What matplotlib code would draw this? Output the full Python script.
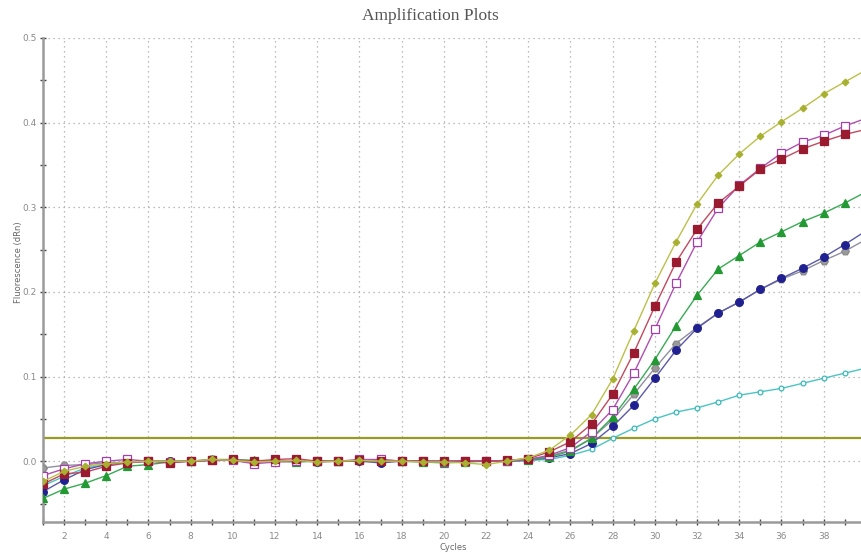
import matplotlib
matplotlib.use("Agg")
import matplotlib.pyplot as plt
from matplotlib.ticker import MultipleLocator, FormatStrFormatter
import numpy as np

# ── Data ──────────────────────────────────────────────────────────────────────
cycles = np.arange(1, 41)

yellow = [-0.024, -0.012, -0.006, -0.003, -0.001, 0.000, 0.000, 0.000, 0.002, 0.001,
          -0.001, 0.000, 0.001, -0.001, 0.000, 0.001, 0.000, 0.000, -0.001, -0.001,
          -0.002, -0.004, 0.000, 0.004, 0.013, 0.031, 0.055, 0.097, 0.154, 0.210,
          0.259, 0.304, 0.338, 0.363, 0.384, 0.401, 0.417, 0.434, 0.448, 0.462]
red = [-0.027, -0.015, -0.013, -0.006, -0.002, 0.000, -0.002, 0.000, 0.001, 0.002,
       0.000, 0.002, 0.003, 0.000, 0.000, 0.001, 0.000, 0.000, 0.000, 0.000,
       0.000, 0.000, 0.001, 0.003, 0.011, 0.023, 0.044, 0.079, 0.128, 0.183,
       0.235, 0.274, 0.305, 0.325, 0.345, 0.357, 0.369, 0.378, 0.386, 0.392]
purple = [-0.017, -0.009, -0.003, 0.000, 0.002, 0.000, -0.001, 0.000, 0.001, 0.001,
          -0.003, -0.001, 0.000, 0.000, 0.000, 0.002, 0.002, 0.000, 0.000, -0.001,
          0.000, 0.000, 0.000, 0.002, 0.007, 0.016, 0.035, 0.061, 0.104, 0.156,
          0.210, 0.259, 0.299, 0.326, 0.346, 0.364, 0.377, 0.385, 0.396, 0.405]
green = [-0.044, -0.033, -0.026, -0.017, -0.006, -0.004, -0.001, 0.000, 0.002, 0.002,
         0.001, 0.000, -0.001, 0.000, 0.000, 0.001, 0.001, 0.000, -0.001, -0.002,
         -0.001, 0.000, 0.000, 0.001, 0.005, 0.012, 0.027, 0.052, 0.085, 0.120,
         0.160, 0.196, 0.227, 0.243, 0.259, 0.271, 0.283, 0.293, 0.305, 0.318]
navy = [-0.036, -0.022, -0.010, -0.004, -0.001, 0.000, 0.000, 0.000, 0.001, 0.001,
        0.000, 0.000, 0.001, -0.001, 0.000, 0.000, -0.002, 0.000, 0.000, 0.000,
        0.000, 0.000, 0.000, 0.001, 0.004, 0.009, 0.021, 0.041, 0.066, 0.098,
        0.131, 0.157, 0.175, 0.188, 0.203, 0.216, 0.228, 0.241, 0.256, 0.272]
gray = [-0.008, -0.005, -0.004, -0.002, -0.001, 0.000, 0.000, 0.000, 0.002, 0.001,
        -0.002, 0.000, 0.000, 0.000, 0.000, 0.001, 0.002, 0.000, 0.000, 0.000,
        0.000, 0.000, 0.000, 0.002, 0.006, 0.013, 0.027, 0.049, 0.079, 0.110,
        0.139, 0.158, 0.175, 0.188, 0.203, 0.215, 0.225, 0.237, 0.248, 0.262]
cyan = [-0.029, -0.018, -0.008, -0.004, -0.002, 0.000, 0.000, 0.000, 0.001, 0.001,
        0.000, 0.000, 0.000, 0.000, 0.000, 0.000, 0.000, 0.000, 0.000, -0.001,
        0.000, 0.000, 0.000, 0.001, 0.002, 0.007, 0.014, 0.027, 0.039, 0.050,
        0.058, 0.063, 0.070, 0.078, 0.082, 0.086, 0.092, 0.098, 0.104, 0.110]

threshold = 0.027

# ── Figure ────────────────────────────────────────────────────────────────────
fig = plt.figure(figsize=(8.61, 5.54), dpi=100, facecolor="white")
ax = fig.add_axes([43/861, 1 - 521.7/554, 1 - 43/861, (521.7 - 38)/554])

GRIDC = "#a8a8a8"; TICKC = "#8a8a8a"

ax.xaxis.grid(True, which="major", color=GRIDC, linestyle=(0, (1, 3)), linewidth=0.9)
ax.yaxis.grid(True, which="major", color=GRIDC, linestyle=(0, (1, 3)), linewidth=0.9)
ax.set_axisbelow(True)

ax.axhline(threshold, color="#9a9a22", lw=1.6, zorder=2)

series = [
    # values, line colour, marker, marker face, marker edge, size
    (cyan,   "#4cc4c4", "o", "white",   "#3ab8b8", 3.4),
    (gray,   "#8f8f9f", "H", "#9a9a9a", "#8a8a8a", 5.5),
    (navy,   "#5a5aa8", "o", "#202090", "#202090", 5.5),
    (green,  "#3aaa55", "^", "#229933", "#229933", 5.5),
    (purple, "#b050b0", "s", "white",   "#a040a8", 5.2),
    (red,    "#c04a60", "s", "#9a1a30", "#9a1a30", 5.2),
    (yellow, "#bcc04a", "D", "#a8b030", "#a8b030", 3.4),
]
for vals, lc, mk, mf, me, ms in series:
    ax.plot(cycles, vals, color=lc, lw=1.0, marker=mk, ms=ms,
            markerfacecolor=mf, markeredgecolor=me, markeredgewidth=0.9, zorder=3)

ax.set_xlim(1, 39.77)
ax.set_ylim(-0.0715, 0.5)

ax.xaxis.set_major_locator(MultipleLocator(2))
ax.xaxis.set_minor_locator(MultipleLocator(1))
ax.yaxis.set_major_locator(MultipleLocator(0.1))
ax.yaxis.set_minor_locator(MultipleLocator(0.05))
ax.yaxis.set_major_formatter(FormatStrFormatter("%.1f"))

ax.tick_params(axis="both", which="both", direction="inout", colors="#444444",
               labelcolor=TICKC, labelsize=6.5, width=1.0)
ax.tick_params(axis="both", which="major", length=5)
ax.tick_params(axis="both", which="minor", length=4)
ax.tick_params(axis="x", pad=5)
ax.tick_params(axis="y", pad=2)

for sp in ["top", "right"]:
    ax.spines[sp].set_visible(False)
for sp in ["bottom", "left"]:
    ax.spines[sp].set_color("#9a9a9a")
    ax.spines[sp].set_linewidth(1.8)

fig.text(0.5, 1 - 16/554, "Amplification Plots", ha="center", va="center",
         family="Liberation Serif", fontsize=12.5, color="#555555")
fig.text(453/861, 1 - 548/554, "Cycles", ha="center", va="center",
         fontsize=6, color="#666666")
fig.text(19/861, 1 - 262/554, "Fluorescence (dRn)", ha="center", va="center",
         rotation=90, fontsize=6, color="#666666")

fig.savefig("out.png", dpi=100, facecolor="white")
